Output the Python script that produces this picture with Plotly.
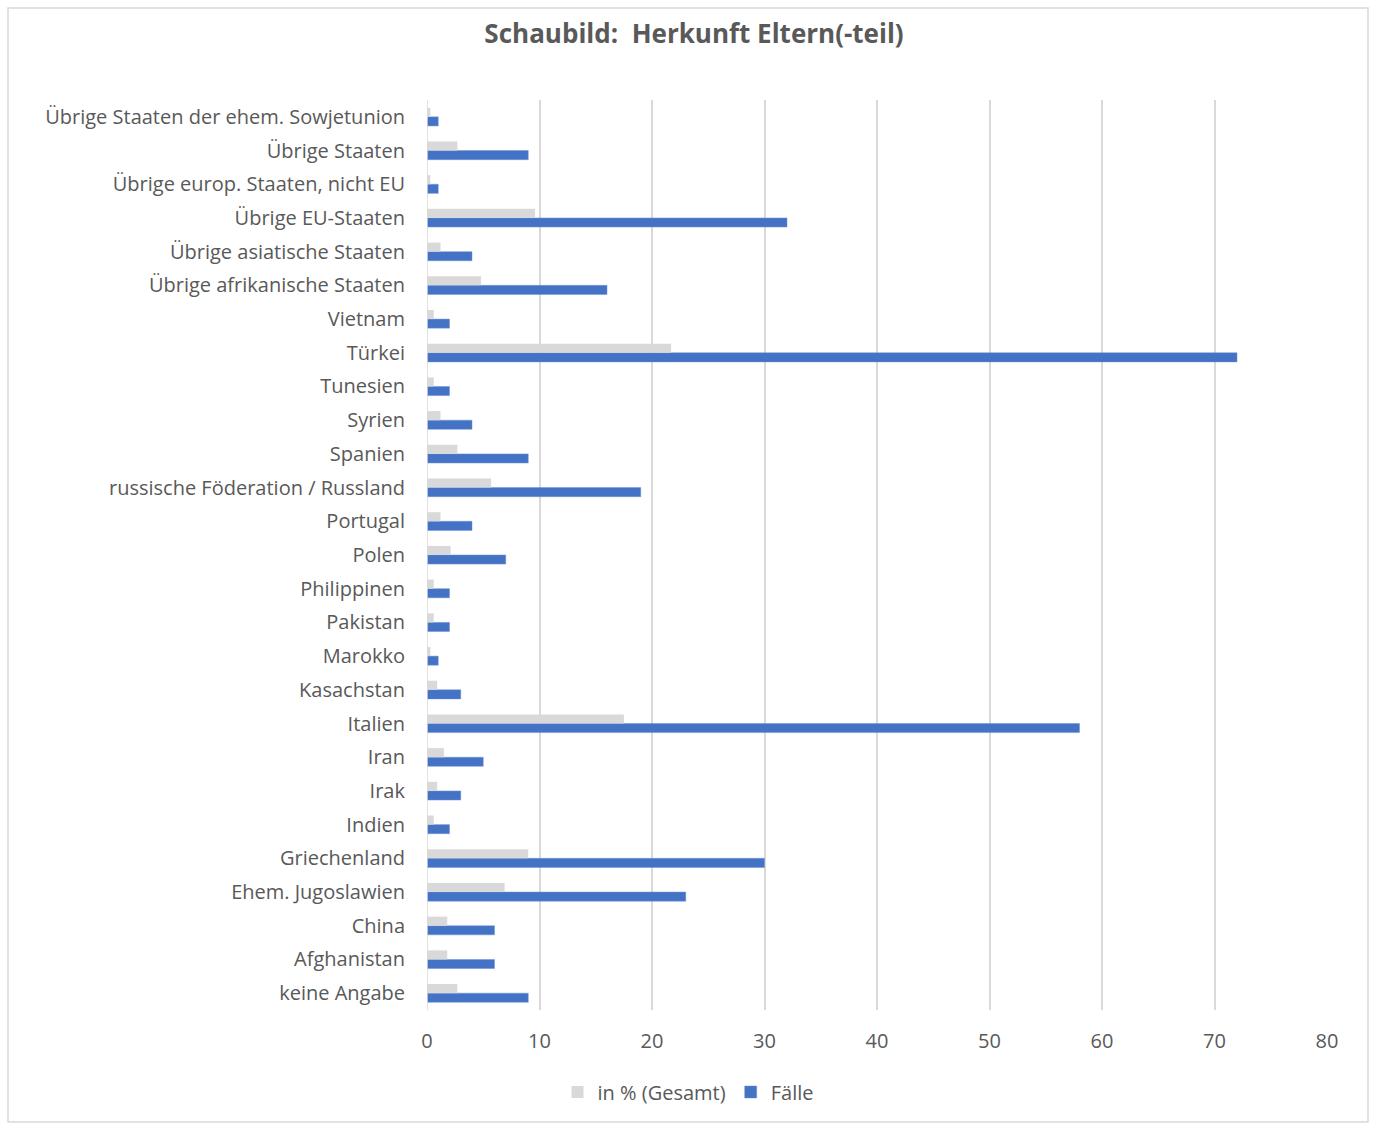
import plotly.graph_objects as go

categories = [
    "keine Angabe", "Afghanistan", "China", "Ehem. Jugoslawien", "Griechenland",
    "Indien", "Irak", "Iran", "Italien", "Kasachstan", "Marokko", "Pakistan",
    "Philippinen", "Polen", "Portugal", "russische Föderation / Russland",
    "Spanien", "Syrien", "Tunesien", "Türkei", "Vietnam",
    "Übrige afrikanische Staaten", "Übrige asiatische Staaten", "Übrige EU-Staaten",
    "Übrige europ. Staaten, nicht EU", "Übrige Staaten",
    "Übrige Staaten der ehem. Sowjetunion",
]
faelle = [9, 6, 6, 23, 30, 2, 3, 5, 58, 3, 1, 2, 2, 7, 4, 19, 9, 4, 2, 72, 2,
          16, 4, 32, 1, 9, 1]
prozent = [2.7, 1.8, 1.8, 6.9, 9.0, 0.6, 0.9, 1.5, 17.5, 0.9, 0.3, 0.6, 0.6,
           2.1, 1.2, 5.7, 2.7, 1.2, 0.6, 21.7, 0.6, 4.8, 1.2, 9.6, 0.3, 2.7, 0.3]
x_ticks = [0, 10, 20, 30, 40, 50, 60, 70, 80]

W, H = 1374, 1124
L, R, T, B = 427, 47, 100, 114
pw, ph = W - L - R, H - T - B

def px_x(x):
    return (x - L) / pw

def px_y(y):
    return (H - B - y) / ph

FONT = "Open Sans"
TXT = "#595959"

fig = go.Figure()
fig.add_trace(go.Bar(
    y=categories, x=faelle, orientation="h", name="Fälle",
    marker=dict(color="#4472C4", line=dict(color="#6f93d6", width=0.5)),
    legendrank=2,
))
fig.add_trace(go.Bar(
    y=categories, x=prozent, orientation="h", name="in % (Gesamt)",
    marker=dict(color="#D9D9D9", line=dict(width=0)),
    legendrank=1,
))

fig.update_layout(
    width=W, height=H,
    margin=dict(l=L, r=R, t=T, b=B),
    paper_bgcolor="white", plot_bgcolor="white",
    barmode="group", bargap=0.46, bargroupgap=0,
    font=dict(family=FONT, color=TXT, size=20),
    title=dict(
        text="<b>Schaubild:  Herkunft Eltern(-teil)</b>",
        x=694 / W, xref="container", xanchor="center",
        y=1 - 34 / H, yref="container", yanchor="middle",
        font=dict(family=FONT, size=26, color=TXT),
    ),
    legend=dict(
        orientation="h", x=px_x(688), y=px_y(1092),
        xanchor="center", yanchor="middle",
        font=dict(family=FONT, size=20, color=TXT),
        itemwidth=30, traceorder="normal",
    ),
    xaxis=dict(
        range=[0, 80], tickvals=x_ticks, showgrid=True,
        gridcolor="#D9D9D9", gridwidth=1.5, zeroline=False,
        showline=False, ticks="", ticklabelstandoff=17,
        tickfont=dict(family=FONT, size=20, color=TXT),
    ),
    yaxis=dict(
        showgrid=False, zeroline=False, showline=False, ticks="",
        ticklabelstandoff=21, automargin=False,
        tickfont=dict(family=FONT, size=20, color=TXT),
    ),
    shapes=[
        dict(type="line", xref="x", yref="paper", x0=0, x1=0, y0=0, y1=1,
             line=dict(color="#D9D9D9", width=1.5)),
        dict(type="rect", xref="paper", yref="paper",
             x0=px_x(8), x1=px_x(1368), y0=px_y(1122), y1=px_y(8),
             line=dict(color="#D9D9D9", width=1.5), layer="below"),
    ],
)

fig.write_html("out.html")
